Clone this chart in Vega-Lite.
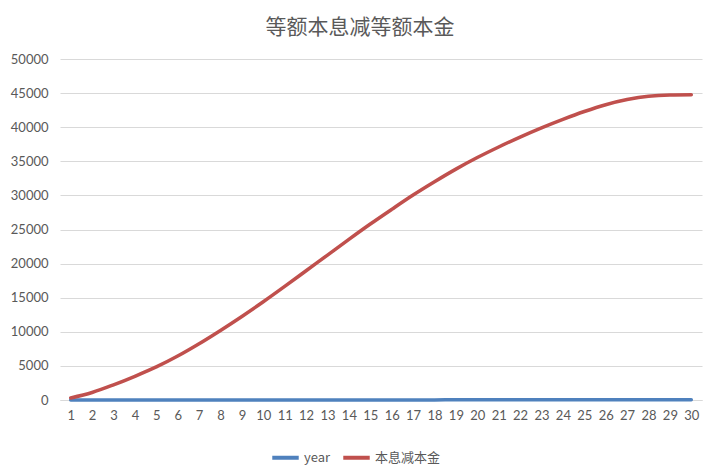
{
  "$schema": "https://vega.github.io/schema/vega-lite/v6.json",
  "width": 642,
  "height": 341,
  "autosize": {"type": "none"},
  "padding": {"left": 60, "top": 59, "right": 18, "bottom": 72},
  "background": "white",
  "title": {
    "text": "等额本息减等额本金",
    "fontSize": 21,
    "font": "Noto Sans CJK SC",
    "fontWeight": "normal",
    "color": "#595959",
    "anchor": "middle",
    "dx": -21,
    "offset": 15
  },
  "data": {
    "values": [
      {"x": 1, "year": 1, "本息减本金": 300},
      {"x": 2, "year": 2, "本息减本金": 1100},
      {"x": 3, "year": 3, "本息减本金": 2220},
      {"x": 4, "year": 4, "本息减本金": 3480},
      {"x": 5, "year": 5, "本息减本金": 4850},
      {"x": 6, "year": 6, "本息减本金": 6450},
      {"x": 7, "year": 7, "本息减本金": 8250},
      {"x": 8, "year": 8, "本息减本金": 10200},
      {"x": 9, "year": 9, "本息减本金": 12250},
      {"x": 10, "year": 10, "本息减本金": 14400},
      {"x": 11, "year": 11, "本息减本金": 16650},
      {"x": 12, "year": 12, "本息减本金": 18950},
      {"x": 13, "year": 13, "本息减本金": 21250},
      {"x": 14, "year": 14, "本息减本金": 23550},
      {"x": 15, "year": 15, "本息减本金": 25800},
      {"x": 16, "year": 16, "本息减本金": 27950},
      {"x": 17, "year": 17, "本息减本金": 30050},
      {"x": 18, "year": 18, "本息减本金": 32000},
      {"x": 19, "year": 19, "本息减本金": 33850},
      {"x": 20, "year": 20, "本息减本金": 35550},
      {"x": 21, "year": 21, "本息减本金": 37100},
      {"x": 22, "year": 22, "本息减本金": 38550},
      {"x": 23, "year": 23, "本息减本金": 39900},
      {"x": 24, "year": 24, "本息减本金": 41150},
      {"x": 25, "year": 25, "本息减本金": 42300},
      {"x": 26, "year": 26, "本息减本金": 43300},
      {"x": 27, "year": 27, "本息减本金": 44050},
      {"x": 28, "year": 28, "本息减本金": 44550},
      {"x": 29, "year": 29, "本息减本金": 44730},
      {"x": 30, "year": 30, "本息减本金": 44760}
    ]
  },
  "transform": [{"fold": ["year", "本息减本金"], "as": ["series", "value"]}],
  "mark": {"type": "line", "interpolate": "monotone", "strokeWidth": 3.5, "strokeCap": "round"},
  "encoding": {
    "x": {
      "field": "x",
      "type": "ordinal",
      "scale": {"padding": 0.5},
      "axis": {
        "title": null,
        "labelAngle": 0,
        "labelFontSize": 13,
        "labelFont": "Lato",
        "labelColor": "#595959",
        "labelPadding": 9,
        "ticks": false,
        "domainColor": "#d9d9d9",
        "domainWidth": 1,
        "grid": false
      }
    },
    "y": {
      "field": "value",
      "type": "quantitative",
      "scale": {"domain": [0, 50000], "nice": false},
      "axis": {
        "title": null,
        "values": [0, 5000, 10000, 15000, 20000, 25000, 30000, 35000, 40000, 45000, 50000],
        "format": "d",
        "labelFontSize": 13,
        "labelFont": "Lato",
        "labelColor": "#595959",
        "labelPadding": 12,
        "ticks": false,
        "domain": false,
        "gridColor": "#d9d9d9",
        "gridWidth": 1.2
      }
    },
    "color": {
      "field": "series",
      "type": "nominal",
      "sort": ["year", "本息减本金"],
      "scale": {"domain": ["year", "本息减本金"], "range": ["#4F81BD", "#C0504D"]},
      "legend": {
        "title": null,
        "orient": "none",
        "direction": "horizontal",
        "legendX": 210,
        "legendY": 383,
        "symbolType": "stroke",
        "symbolStrokeWidth": 4,
        "symbolSize": 700,
        "labelFontSize": 13,
        "labelFont": "Noto Sans CJK SC",
        "labelColor": "#595959",
        "columnPadding": 4,
        "labelOffset": 3
      }
    }
  },
  "config": {"view": {"stroke": null}}
}
